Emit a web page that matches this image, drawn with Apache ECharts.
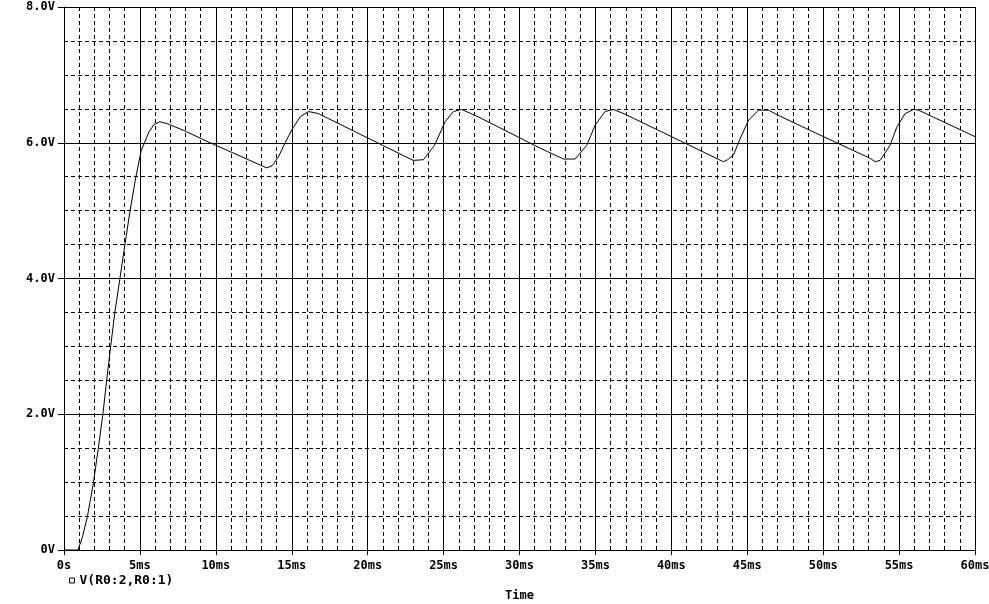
<!DOCTYPE html>
<html>
<head>
<meta charset="utf-8">
<script src="https://cdn.jsdelivr.net/npm/echarts@6/dist/echarts.min.js"></script>
<style>
  html, body { margin: 0; padding: 0; background: #fff; width: 100%; height: 100%; overflow: hidden; }
  #chart { width: 100vw; height: 100vh; }
</style>
</head>
<body>
<div id="chart"></div>
<script>
// time axis values in ms, voltage in V
const timeMs = [0, 0.92, 1.2, 1.54, 1.93, 2.26, 2.57, 2.81, 3.07, 3.34, 3.67, 4.0, 4.33, 4.72, 5.09, 5.38, 5.6, 5.93, 6.32, 6.8, 7.9, 9.62,
  13.35, 13.7, 14.12, 14.5, 15.0, 15.55, 16.1, 16.75, 23.0, 23.67, 24.4, 25.1, 25.65, 26.2, 27.3, 31.36,
  32.9, 33.66, 34.43, 34.98, 35.64, 36.19, 36.96, 43.43, 43.7, 44.09, 44.53, 45.08, 45.74, 46.4, 47.17, 50.02,
  53.1, 53.43, 53.75, 54.4, 54.85, 55.4, 55.95, 56.28, 60]
const voltage = [0, 0, 0.18, 0.49, 0.98, 1.5, 2.02, 2.5, 2.99, 3.49, 3.98, 4.48, 4.97, 5.48, 5.89, 6.04, 6.16, 6.27, 6.31, 6.28, 6.18, 6.0,
  5.63, 5.66, 5.79, 5.97, 6.19, 6.38, 6.46, 6.43, 5.74, 5.75, 5.96, 6.31, 6.46, 6.49, 6.38, 5.92,
  5.76, 5.76, 5.96, 6.26, 6.46, 6.49, 6.42, 5.72, 5.75, 5.82, 6.06, 6.33, 6.48, 6.48, 6.39, 6.09,
  5.77, 5.72, 5.74, 5.96, 6.23, 6.43, 6.49, 6.48, 6.09]

const xTickLabels = ['0s', '5ms', '10ms', '15ms', '20ms', '25ms', '30ms', '35ms', '40ms', '45ms', '50ms', '55ms', '60ms']
const yTickLabels = ['0V', '2.0V', '4.0V', '6.0V', '8.0V']
const seriesName = 'V(R0:2,R0:1)'
const xTitle = 'Time'

const font = '"DejaVu Sans Mono", monospace'
const labelStyle = { color: '#000', fontFamily: font, fontWeight: 'bold', fontSize: 12 }

const chart = echarts.init(document.getElementById('chart'), null, { renderer: 'canvas' })

chart.setOption({
  backgroundColor: '#fff',
  animation: false,
  grid: { left: 64, right: 14, top: 7, bottom: 54, outerBoundsMode: 'none' },
  legend: {
    left: 64,
    top: 569,
    icon: 'rect',
    itemWidth: 5,
    itemHeight: 5,
    itemGap: 8,
    itemStyle: { color: '#fff', borderColor: '#000', borderWidth: 1 },
    textStyle: { ...labelStyle, fontSize: 13 },
    data: [seriesName]
  },
  xAxis: {
    type: 'value',
    min: 0,
    max: 60,
    interval: 5,
    name: xTitle,
    nameLocation: 'middle',
    nameGap: 40,
    nameTextStyle: labelStyle,
    axisLine: { lineStyle: { color: '#000', width: 1 } },
    axisTick: { show: true, length: 5, lineStyle: { color: '#000' } },
    axisLabel: {
      ...labelStyle,
      margin: 10,
      formatter: v => xTickLabels[Math.round(v / 5)]
    },
    splitLine: { show: true, lineStyle: { color: '#000', width: 1 } },
    minorTick: { show: false, splitNumber: 5 },
    minorSplitLine: { show: true, lineStyle: { color: '#000', width: 1, type: [4, 3] } }
  },
  yAxis: {
    type: 'value',
    min: 0,
    max: 8,
    interval: 2,
    axisLine: { show: true, lineStyle: { color: '#000', width: 1 } },
    axisTick: { show: true, length: 6, lineStyle: { color: '#000' } },
    axisLabel: {
      ...labelStyle,
      margin: 9,
      formatter: v => yTickLabels[Math.round(v / 2)]
    },
    splitLine: { show: true, lineStyle: { color: '#000', width: 1 } },
    minorTick: { show: false, splitNumber: 4 },
    minorSplitLine: { show: true, lineStyle: { color: '#000', width: 1, type: [4, 3] } }
  },
  series: [
    {
      name: seriesName,
      type: 'line',
      data: timeMs.map((t, i) => [t, voltage[i]]),
      showSymbol: false,
      smooth: false,
      lineStyle: { color: '#000', width: 1 },
      itemStyle: { color: '#000' }
    }
  ]
})

window.addEventListener('resize', () => chart.resize())
</script>
</body>
</html>
